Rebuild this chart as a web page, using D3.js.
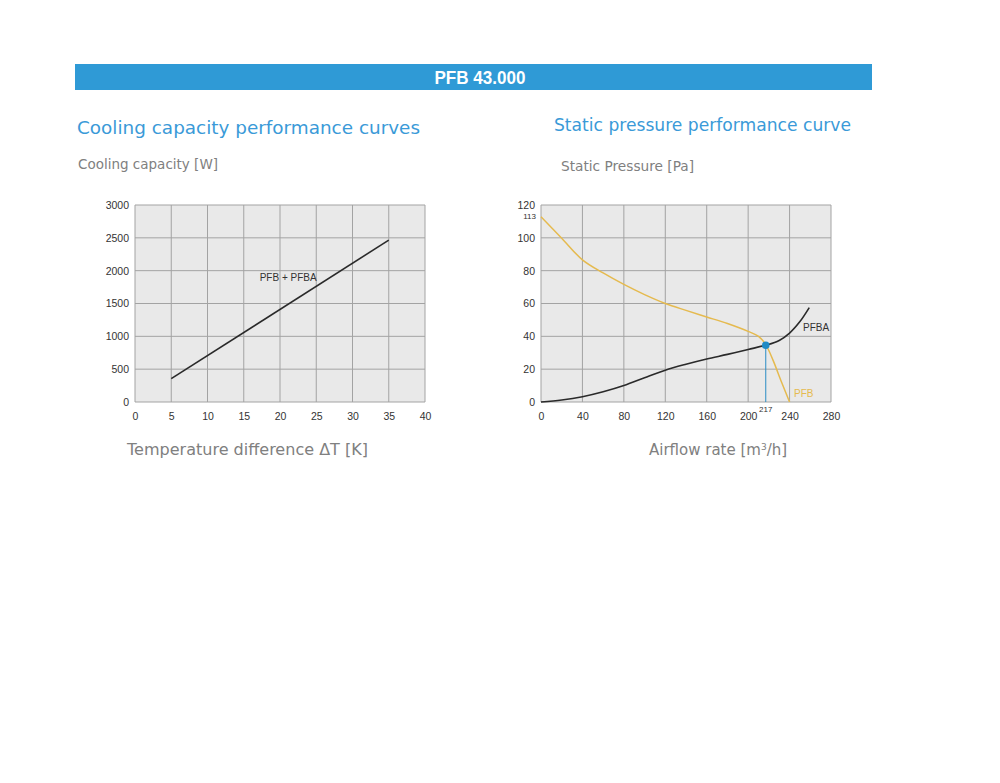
<!DOCTYPE html>
<html>
<head>
<meta charset="utf-8">
<script src="https://cdn.jsdelivr.net/npm/d3@7"></script>
<style>
  body { margin: 0; background: #fff; }
  svg { display: block; }
</style>
</head>
<body>
<div id="page"></div>
<script>
// cooling capacity chart data
const tempDiff = [5, 35],
    coolingW = [355, 2465],
    coolXTicks = [0, 5, 10, 15, 20, 25, 30, 35, 40],
    coolYTicks = [0, 500, 1000, 1500, 2000, 2500, 3000];

// static pressure chart data
const airflowPFB = [0, 20, 40, 60, 80, 100, 120, 140, 160, 180, 200, 210, 217, 224, 232, 240],
    pressurePFB = [112.8, 99.8, 86.6, 78.6, 71.6, 65.4, 60, 55.8, 51.8, 47.8, 43, 40, 35, 25.5, 12.5, 0],
    airflowPFBA = [0, 20, 40, 60, 80, 100, 120, 140, 160, 180, 200, 217, 230, 240, 250, 259],
    pressurePFBA = [0, 1.2, 3.2, 6.2, 10, 14.8, 19.4, 23, 26.2, 29, 32, 34.6, 37.5, 42, 49, 57.5],
    airXTicks = [0, 40, 80, 120, 160, 200, 240, 280],
    airYTicks = [0, 20, 40, 60, 80, 100, 120],
    workPoint = {x: 217, y: 34.6};

const W = 1000, H = 783;
const gridColor = "#a3a3a3",
    plotBg = "#e9e9e9",
    titleBlue = "#3a9ad8",
    labelGrey = "#808080",
    yellow = "#e5ba4f",
    axisFont = "'Liberation Sans', Arial, sans-serif";

const svg = d3.select("#page").append("svg")
    .attr("width", W)
    .attr("height", H);

// header bar
svg.append("rect")
    .attr("x", 75).attr("y", 64)
    .attr("width", 797).attr("height", 26)
    .attr("fill", "#2f9ad6");
svg.append("text")
    .attr("x", 480).attr("y", 83.5)
    .attr("text-anchor", "middle")
    .attr("textLength", 91).attr("lengthAdjust", "spacingAndGlyphs")
    .style("font-family", axisFont)
    .style("font-weight", "bold")
    .style("font-size", "18px")
    .style("fill", "#fff")
    .text("PFB 43.000");

// helper for the free texts
function addText(x, y, str, size, color, len) {
    const t = svg.append("text")
        .attr("x", x).attr("y", y)
        .style("font-family", "'DejaVu Sans', Verdana, sans-serif")
        .style("font-size", size + "px")
        .style("fill", color)
        .text(str);
    if (len) t.attr("textLength", len).attr("lengthAdjust", "spacingAndGlyphs");
    return t;
}

addText(77, 134, "Cooling capacity performance curves", 17, titleBlue, 343);
addText(554, 131, "Static pressure performance curve", 17, titleBlue, 297);
addText(78, 169, "Cooling capacity [W]", 14, labelGrey, 140);
addText(561, 171, "Static Pressure [Pa]", 14, labelGrey, 133);
addText(127, 455, "Temperature difference \u0394T [K]", 15.5, labelGrey, 241);
const air = addText(649, 455, "Airflow rate [m", 15, labelGrey, null);
air.append("tspan").attr("dy", -5).style("font-size", "9px").text("3");
air.append("tspan").attr("dy", 5).text("/h]");

// generic panel: background, grid, tick labels
function drawPanel(x, y, xTicks, yTicks) {
    const g = svg.append("g");
    g.append("rect")
        .attr("x", x.range()[0]).attr("y", y.range()[1])
        .attr("width", x.range()[1] - x.range()[0])
        .attr("height", y.range()[0] - y.range()[1])
        .attr("fill", plotBg);

    g.selectAll("line.vg").data(xTicks).enter().append("line")
        .attr("x1", d => x(d)).attr("x2", d => x(d))
        .attr("y1", y.range()[0]).attr("y2", y.range()[1])
        .attr("stroke", gridColor).attr("stroke-width", 1);
    g.selectAll("line.hg").data(yTicks).enter().append("line")
        .attr("y1", d => y(d)).attr("y2", d => y(d))
        .attr("x1", x.range()[0]).attr("x2", x.range()[1])
        .attr("stroke", gridColor).attr("stroke-width", 1);

    const xAxis = g.append("g")
        .attr("transform", "translate(0," + y.range()[0] + ")")
        .call(d3.axisBottom(x).tickValues(xTicks).tickFormat(d3.format("d")).tickSize(0).tickPadding(11));
    const yAxis = g.append("g")
        .attr("transform", "translate(" + x.range()[0] + ",0)")
        .call(d3.axisLeft(y).tickValues(yTicks).tickFormat(d3.format("d")).tickSize(0).tickPadding(6));
    [xAxis, yAxis].forEach(a => {
        a.select(".domain").remove();
        a.selectAll("text")
            .style("font-family", axisFont)
            .style("font-size", "10.5px")
            .style("fill", "#333");
    });
    return g;
}

// ---- left: cooling capacity
const xC = d3.scaleLinear().domain([0, 40]).range([135, 425]);
const yC = d3.scaleLinear().domain([0, 3000]).range([402, 205]);
const gC = drawPanel(xC, yC, coolXTicks, coolYTicks);

gC.append("path")
    .datum(d3.zip(tempDiff, coolingW))
    .attr("fill", "none")
    .attr("stroke", "#2a2a2a")
    .attr("stroke-width", 1.6)
    .attr("d", d3.line().x(d => xC(d[0])).y(d => yC(d[1])));

gC.append("text")
    .attr("x", xC(17.2)).attr("y", yC(1895) + 3.5)
    .style("font-family", axisFont)
    .style("font-size", "10px")
    .style("fill", "#333")
    .text("PFB + PFBA");

// ---- right: static pressure
const xP = d3.scaleLinear().domain([0, 280]).range([541, 831]);
const yP = d3.scaleLinear().domain([0, 120]).range([402, 205]);
const gP = drawPanel(xP, yP, airXTicks, airYTicks);

const lineP = d3.line().curve(d3.curveCatmullRom.alpha(0.5))
    .x(d => xP(d[0])).y(d => yP(d[1]));

gP.append("path")
    .datum(d3.zip(airflowPFB, pressurePFB))
    .attr("fill", "none")
    .attr("stroke", yellow)
    .attr("stroke-width", 1.5)
    .attr("d", lineP);

gP.append("path")
    .datum(d3.zip(airflowPFBA, pressurePFBA))
    .attr("fill", "none")
    .attr("stroke", "#2a2a2a")
    .attr("stroke-width", 1.6)
    .attr("d", lineP);

// working point
gP.append("line")
    .attr("x1", xP(workPoint.x)).attr("x2", xP(workPoint.x))
    .attr("y1", yP(workPoint.y)).attr("y2", yP(0))
    .attr("stroke", "#2a8cc4").attr("stroke-width", 1);
gP.append("circle")
    .attr("cx", xP(workPoint.x)).attr("cy", yP(workPoint.y))
    .attr("r", 3.8)
    .attr("fill", "#1f8ac4");

gP.append("text")
    .attr("x", xP(workPoint.x)).attr("y", yP(0) + 10)
    .attr("text-anchor", "middle")
    .style("font-family", axisFont).style("font-size", "8px").style("fill", "#333")
    .text(workPoint.x);
gP.append("text")
    .attr("x", xP(0) - 5).attr("y", yP(113) + 3)
    .attr("text-anchor", "end")
    .style("font-family", axisFont).style("font-size", "8px").style("fill", "#333")
    .text("113");

gP.append("text")
    .attr("x", 803).attr("y", 331)
    .style("font-family", axisFont).style("font-size", "10px").style("fill", "#333")
    .text("PFBA");
gP.append("text")
    .attr("x", 794).attr("y", 396.5)
    .style("font-family", axisFont).style("font-size", "10px").style("fill", yellow)
    .text("PFB");
</script>
</body>
</html>
